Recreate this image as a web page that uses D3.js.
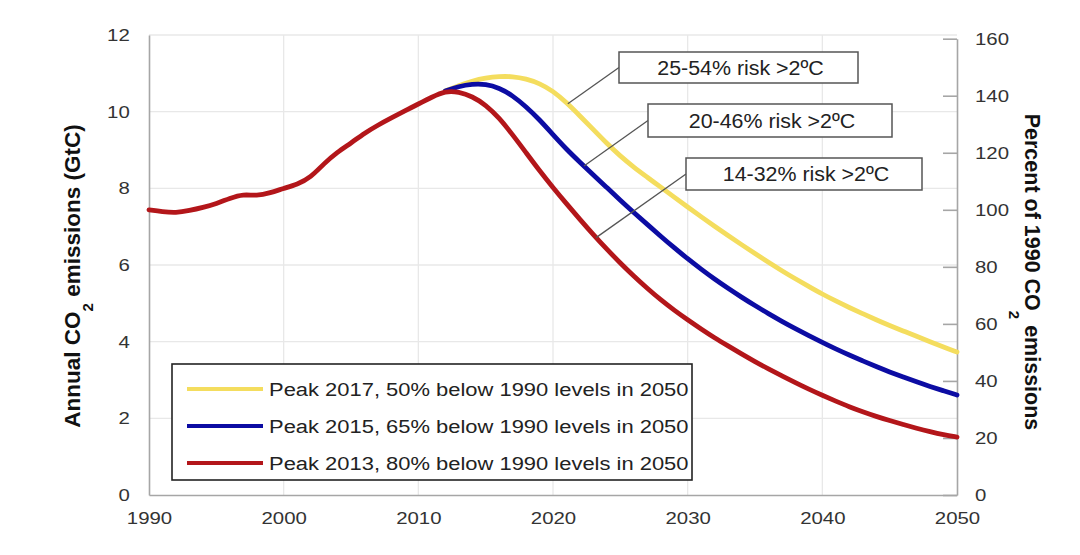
<!DOCTYPE html>
<html><head><meta charset="utf-8">
<script src="https://cdn.jsdelivr.net/npm/d3@7"></script>
<style>
body{margin:0;background:#fff}
svg{display:block}
text{font-family:"Liberation Sans",Arial,Helvetica,sans-serif}
</style></head>
<body><svg id="c" width="1080" height="555"></svg>
<script>
// ---------------- data ----------------
const histYears = d3.range(1990, 2013);               // 1990..2012
const histValues = [7.44,7.39,7.36,7.42,7.50,7.60,7.74,7.85,7.80,7.88,8.00,8.10,8.28,8.65,8.95,9.18,9.44,9.65,9.84,10.02,10.20,10.38,10.54];
const projYears = d3.range(2013, 2051);               // 2013..2050
const peak2013 = [10.52,10.40,10.18,9.84,9.40,8.93,8.46,8.02,7.60,7.19,6.79,6.41,6.05,5.71,5.39,5.09,4.82,4.57,4.33,4.10,3.89,3.68,3.48,3.29,3.11,2.93,2.76,2.60,2.45,2.30,2.17,2.05,1.94,1.84,1.74,1.65,1.57,1.51];
const peak2015 = [10.66,10.72,10.72,10.62,10.42,10.13,9.79,9.40,9.02,8.68,8.35,8.02,7.69,7.37,7.06,6.75,6.45,6.16,5.89,5.63,5.39,5.16,4.94,4.73,4.53,4.34,4.16,3.98,3.81,3.65,3.50,3.35,3.21,3.08,2.95,2.83,2.72,2.61];
const peak2017 = [10.68,10.80,10.88,10.92,10.92,10.86,10.74,10.54,10.24,9.89,9.53,9.17,8.84,8.55,8.29,8.03,7.77,7.51,7.26,7.01,6.77,6.53,6.30,6.07,5.85,5.64,5.44,5.24,5.06,4.89,4.73,4.57,4.42,4.28,4.14,4.00,3.86,3.73];
const seriesNames = ["Peak 2017, 50% below 1990 levels in 2050","Peak 2015, 65% below 1990 levels in 2050","Peak 2013, 80% below 1990 levels in 2050"];
const seriesColors = ["#f4dd5e","#0c0ca3","#b3161a"];
const riskLabels = ["25-54% risk >2ºC","20-46% risk >2ºC","14-32% risk >2ºC"];
const riskYears = [2021.1, 2022.3, 2023.2];
const xTicks = [1990,2000,2010,2020,2030,2040,2050];
const yTicks = [0,2,4,6,8,10,12];
const pctTicks = [0,20,40,60,80,100,120,140,160];

// ---------------- build ----------------
const svg = d3.select("#c");
const X0 = 149, X1 = 957, Y0 = 495, Y1 = 35;
const x = d3.scaleLinear().domain([1990, 2050]).range([X0, X1]);
const y = d3.scaleLinear().domain([0, 12]).range([Y0, Y1]);
const base = histValues[0];
const yPct = d3.scaleLinear().domain([0, 160]).range([Y0, y(base * 1.6)]);

const lastHist = {year: histYears[histYears.length-1], value: histValues[histValues.length-1]};
const hist = histYears.map((yr,i)=>({year: yr, value: histValues[i]}));
const proj = arr => [lastHist].concat(projYears.map((yr,i)=>({year: yr, value: arr[i]})));
const series = [proj(peak2017), proj(peak2015), hist.concat(proj(peak2013).slice(1))];

// gridlines
const grid = svg.append("g").attr("stroke","#e8e8e8").attr("stroke-width",1.3);
grid.selectAll("line.h").data(yTicks.filter(d=>d>0)).join("line")
  .attr("x1",X0).attr("x2",X1).attr("y1",d=>y(d)).attr("y2",d=>y(d));
grid.selectAll("line.v").data(xTicks.slice(1,-1)).join("line")
  .attr("x1",d=>x(d)).attr("x2",d=>x(d)).attr("y1",Y1).attr("y2",Y0);

const SX = 1.2;
const gl = svg.append("g").attr("transform",`translate(${X0},0)`)
  .call(d3.axisLeft(y).tickValues(yTicks).tickSize(0).tickPadding(16));
const gb = svg.append("g").attr("transform",`translate(0,${Y0})`)
  .call(d3.axisBottom(x).tickValues(xTicks).tickFormat(d3.format("d")).tickSize(0).tickPadding(17));
const gr = svg.append("g").attr("transform",`translate(${X1},0)`)
  .call(d3.axisRight(yPct).tickValues(pctTicks).tickSizeInner(-14).tickSizeOuter(0).tickPadding(15));
[gl,gb,gr].forEach(g=>{
  g.select(".domain").attr("stroke","#a6a6a6").attr("stroke-width",1.6);
  g.selectAll(".tick line").attr("stroke","#a6a6a6").attr("stroke-width",1.6);
  g.selectAll(".tick text").attr("fill","#333").attr("font-size",17)
    .attr("font-family","'Liberation Sans',Arial,sans-serif")
    .attr("transform",`scale(${SX},1)`);
});

// lines
const line = d3.line().x(d=>x(d.year)).y(d=>y(d.value)).curve(d3.curveBasis);
svg.append("g").selectAll("path").data(series).join("path")
  .attr("d",line).attr("fill","none")
  .attr("stroke",(d,i)=>seriesColors[i]).attr("stroke-width",4.8)
  .attr("stroke-linejoin","round").attr("stroke-linecap","round");

// annotations
const boxes = [{x:619,y:52,w:239,h:31},{x:648,y:104,w:244,h:33},{x:686,y:158,w:236,h:32}];
const valueAt = (s, yr) => {
  const i = d3.bisector(d=>d.year).right(s, yr);
  const a = s[i-1], b = s[i];
  return a.value + (b.value - a.value) * (yr - a.year) / (b.year - a.year);
};
const ann = svg.append("g");
boxes.forEach((b,i)=>{
  const yr = riskYears[i];
  ann.append("line").attr("x1",b.x).attr("y1",b.y+b.h/2)
    .attr("x2",x(yr)).attr("y2",y(valueAt(series[i], yr)))
    .attr("stroke","#555").attr("stroke-width",1.3);
  ann.append("rect").attr("x",b.x).attr("y",b.y).attr("width",b.w).attr("height",b.h)
    .attr("fill","#fff").attr("stroke","#555").attr("stroke-width",1.5);
  ann.append("text").attr("transform",`translate(${b.x+b.w/2+2},${b.y+b.h/2}) scale(1.07,1)`).attr("dy","0.36em")
    .attr("text-anchor","middle").attr("font-size",20).attr("fill","#222").text(riskLabels[i]);
});

// legend
const lg = svg.append("g").attr("transform","translate(172,364)");
lg.append("rect").attr("width",520).attr("height",116).attr("fill","#fff")
  .attr("stroke","#222").attr("stroke-width",1.6);
seriesNames.forEach((n,i)=>{
  const ry = 25 + i*37;
  lg.append("line").attr("x1",15).attr("x2",91).attr("y1",ry).attr("y2",ry)
    .attr("stroke",seriesColors[i]).attr("stroke-width",4);
  lg.append("text").attr("transform",`translate(97,${ry}) scale(1.155,1)`).attr("dy","0.36em")
    .attr("font-size",19).attr("fill","#222").text(n);
});

// axis titles
const lt = svg.append("text").attr("transform","translate(80,276) rotate(-90)")
  .attr("text-anchor","middle").attr("font-size",22.5).attr("font-weight","bold").attr("fill","#111");
lt.append("tspan").text("Annual CO");
lt.append("tspan").attr("font-size",15).attr("dy",13).text("2");
lt.append("tspan").attr("dy",-13).text(" emissions (GtC)");

const rt = svg.append("text").attr("transform","translate(1025,272) rotate(90)")
  .attr("text-anchor","middle").attr("font-size",21.5).attr("font-weight","bold").attr("fill","#111");
rt.append("tspan").text("Percent of 1990 CO");
rt.append("tspan").attr("font-size",15).attr("dy",16).text("2");
rt.append("tspan").attr("dy",-16).text(" emissions");
</script></body></html>
